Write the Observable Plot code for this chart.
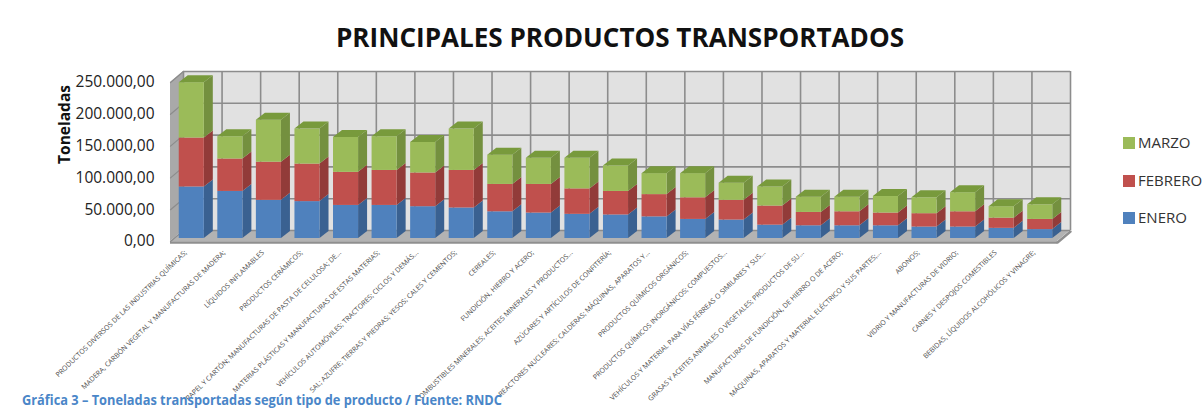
<!DOCTYPE html>
<html><head><meta charset="utf-8">
<script src="https://cdn.jsdelivr.net/npm/d3@7"></script>
<script src="https://cdn.jsdelivr.net/npm/@observablehq/plot@0.6"></script>
<style>
body{margin:0;background:#fff;}
#wrap{position:relative;width:1204px;height:410px;overflow:hidden;font-family:"Open Sans",sans-serif;}
#chart{position:absolute;left:0;top:0;}
#title{position:absolute;left:336px;top:18px;white-space:nowrap;font-weight:bold;font-size:27px;color:#111;transform-origin:0 0;}
#caption{position:absolute;left:22px;top:390px;white-space:nowrap;font-weight:bold;font-size:14px;color:#4a86c8;transform-origin:0 0;}
.leg{position:absolute;left:1123px;font-size:15px;color:#333;white-space:nowrap;line-height:20px;}
.leg span{display:inline-block;width:12px;height:12px;margin-right:3px;vertical-align:-1px;}
</style></head>
<body>
<div id="wrap">
  <div id="chart"></div>
  <div id="title"></div>
  <div id="caption"></div>
  <div id="legend"></div>
</div>
<script>
const title = "PRINCIPALES PRODUCTOS TRANSPORTADOS";
const caption = "Gráfica 3 – Toneladas transportadas según tipo de producto / Fuente: RNDC";
const yLabel = "Toneladas";
const categories = [
  "PRODUCTOS DIVERSOS DE LAS INDUSTRIAS QUÍMICAS;",
  "MADERA, CARBÓN VEGETAL Y MANUFACTURAS DE MADERA;",
  "LÍQUIDOS INFLAMABLES",
  "PRODUCTOS CERÁMICOS;",
  "PAPEL Y CARTÓN; MANUFACTURAS DE PASTA DE CELULOSA; DE...",
  "MATERIAS PLÁSTICAS Y MANUFACTURAS DE ESTAS MATERIAS;",
  "VEHÍCULOS AUTOMÓVILES; TRACTORES; CICLOS Y DEMÁS...",
  "SAL; AZUFRE; TIERRAS Y PIEDRAS; YESOS; CALES Y CEMENTOS;",
  "CEREALES;",
  "FUNDICIÓN, HIERRO Y ACERO;",
  "COMBUSTIBLES MINERALES; ACEITES MINERALES Y PRODUCTOS...",
  "AZÚCARES Y ARTÍCULOS DE CONFITERÍA;",
  "REACTORES NUCLEARES; CALDERAS; MÁQUINAS, APARATOS Y...",
  "PRODUCTOS QUÍMICOS ORGÁNICOS;",
  "PRODUCTOS QUÍMICOS INORGÁNICOS; COMPUESTOS...",
  "VEHÍCULOS Y MATERIAL PARA VÍAS FÉRREAS O SIMILARES Y SUS...",
  "GRASAS Y ACEITES ANIMALES O VEGETALES; PRODUCTOS DE SU...",
  "MANUFACTURAS DE FUNDICIÓN, DE HIERRO O DE ACERO;",
  "MÁQUINAS, APARATOS Y MATERIAL ELÉCTRICO Y SUS PARTES;...",
  "ABONOS;",
  "VIDRIO Y MANUFACTURAS DE VIDRIO;",
  "CARNES Y DESPOJOS COMESTIBLES",
  "BEBIDAS, LÍQUIDOS ALCOHÓLICOS Y VINAGRE;"
];
const seriesNames = ["ENERO", "FEBRERO", "MARZO"];
const enero   = [81000,74000,60000,58000,52000,52000,50000,48000,42000,40000,38000,37000,34000,30000,29000,21000,20000,20000,20000,18000,18000,16000,14000];
const febrero = [77000,51000,60000,59000,52000,55000,53000,59000,43000,45000,40000,37000,35000,34000,31000,30000,21000,22000,20000,21000,24000,16000,16000];
const marzo   = [87000,35000,66000,55000,55000,53000,48000,65000,46000,41000,48000,40000,33000,38000,27000,30000,24000,23000,26000,25000,30000,18000,23000];
const yTicks = [0, 50000, 100000, 150000, 200000, 250000];

const frontColor = {ENERO:"#4f81bd", FEBRERO:"#c0504d", MARZO:"#9bbb59"};
const sideColor  = {ENERO:"#3a6191", FEBRERO:"#923b39", MARZO:"#74903f"};
const topColor   = {MARZO:"#789a3c"};

const W = 1204, H = 410, mL = 170, mR = 147, mT = 82, mB = 169;
const N = categories.length;
const yMax = yTicks[yTicks.length - 1];
const pxX = (W - mL - mR) / N, pxY = (H - mT - mB) / yMax;
const wallDX = 13 / pxX, wallDV = 11 / pxY;
const barHalf = 0.325, barDX = 9 / pxX, barDV = 7 / pxY;

const values = [enero, febrero, marzo];
const rows = [];
categories.forEach((c, i) => {
  let acc = 0;
  seriesNames.forEach((s, j) => {
    const v = values[j][i];
    rows.push({i, s, lo: acc, hi: acc + v});
    acc += v;
  });
});

const loc = d3.formatLocale({decimal: ",", thousands: ".", grouping: [3], currency: ["", ""]});
const fmt = loc.format(",.2f");

const marks = [];
// back wall
marks.push(Plot.rect([{x1: -0.5 + wallDX, x2: N - 0.5 + wallDX, y1: wallDV, y2: yMax + wallDV}],
  {x1: "x1", x2: "x2", y1: "y1", y2: "y2", fill: "#e1e1e1"}));
// left wall
marks.push(Plot.areaY([{x: -0.5, y1: 0, y2: yMax}, {x: -0.5 + wallDX, y1: wallDV, y2: yMax + wallDV}],
  {x: "x", y1: "y1", y2: "y2", fill: "#a9a9a9"}));
// floor
marks.push(Plot.areaX([{y: 0, x1: -0.5, x2: N - 0.5}, {y: wallDV, x1: -0.5 + wallDX, x2: N - 0.5 + wallDX}],
  {y: "y", x1: "x1", x2: "x2", fill: "#b3b3b3"}));
// gridlines on back wall
marks.push(Plot.ruleY(yTicks, {y: d => d + wallDV, x1: -0.5 + wallDX, x2: N - 0.5 + wallDX, stroke: "#8c8c8c", strokeWidth: 1.6, strokeOpacity: 1}));
marks.push(Plot.ruleX(d3.range(N + 1), {x: d => d - 0.5 + wallDX, y1: wallDV, y2: yMax + wallDV, stroke: "#8c8c8c", strokeWidth: 1.6, strokeOpacity: 1}));
// gridlines on left wall
const sideGrid = yTicks.flatMap(t => [{t, x: -0.5, y: t}, {t, x: -0.5 + wallDX, y: t + wallDV}]);
marks.push(Plot.line(sideGrid, {x: "x", y: "y", z: "t", stroke: "#8c8c8c", strokeWidth: 1.2}));
// floor front edge
marks.push(Plot.ruleY([0], {x1: -0.5, x2: N - 0.5, stroke: "#8f8f8f", strokeWidth: 2.5, dy: 1}));
marks.push(Plot.line([{x: N - 0.5, y: 0}, {x: N - 0.5 + wallDX, y: wallDV}], {x: "x", y: "y", stroke: "#8f8f8f", strokeWidth: 2.5, dy: 1}));

// bars
for (const s of seriesNames) {
  const rs = rows.filter(r => r.s === s);
  const side = rs.flatMap(r => [
    {k: r.i, x: r.i + barHalf, y1: r.lo, y2: r.hi},
    {k: r.i, x: r.i + barHalf + barDX, y1: r.lo + barDV, y2: r.hi + barDV}
  ]);
  marks.push(Plot.areaY(side, {x: "x", y1: "y1", y2: "y2", z: "k", fill: sideColor[s], dx: 2, dy: -3}));
  marks.push(Plot.rect(rs, {x1: r => r.i - barHalf, x2: r => r.i + barHalf, y1: "lo", y2: "hi", fill: frontColor[s], dx: 2, dy: -3}));
}
const tops = rows.filter(r => r.s === "MARZO").flatMap(r => [
  {k: r.i, y: r.hi, x1: r.i - barHalf, x2: r.i + barHalf},
  {k: r.i, y: r.hi + barDV, x1: r.i - barHalf + barDX, x2: r.i + barHalf + barDX}
]);
marks.push(Plot.areaX(tops, {y: "y", x1: "x1", x2: "x2", z: "k", fill: topColor.MARZO, dx: 2, dy: -3}));

// category labels
marks.push(Plot.text(categories, {x: (d, i) => i, y: () => 0, text: d => d, rotate: -44, textAnchor: "end",
  dx: -4, dy: 10, fontSize: 7, fill: "#4d4d4d"}));
// y label
marks.push(Plot.text([yLabel], {frameAnchor: "top-left", text: d => d, rotate: -90, dx: -112, dy: 42,
  fontWeight: "bold", fontSize: 15.5, fill: "#111", textAnchor: "middle"}));

const chart = Plot.plot({
  width: W, height: H,
  marginLeft: mL, marginRight: mR, marginTop: mT, marginBottom: mB,
  x: {type: "linear", domain: [-0.5, N - 0.5], axis: null},
  y: {domain: [0, yMax], ticks: yTicks, tickFormat: fmt, tickSize: 0, tickPadding: 16, label: null},
  style: {fontFamily: "Open Sans", fontSize: "15.5px", color: "#222", background: "transparent", overflow: "visible"},
  marks
});
document.getElementById("chart").appendChild(chart);

function fitWidth(el, text, target) {
  el.textContent = text;
  const w = el.getBoundingClientRect().width;
  if (w > 0) el.style.transform = `scaleX(${target / w})`;
}
fitWidth(document.getElementById("title"), title, 568);
fitWidth(document.getElementById("caption"), caption, 480);

const legTops = {MARZO: 132, FEBRERO: 170, ENERO: 207};
const legend = document.getElementById("legend");
for (const s of ["MARZO", "FEBRERO", "ENERO"]) {
  const d = document.createElement("div");
  d.className = "leg";
  d.style.top = legTops[s] + "px";
  d.innerHTML = `<span style="background:${frontColor[s]}"></span>${s}`;
  legend.appendChild(d);
}
</script>
</body></html>
